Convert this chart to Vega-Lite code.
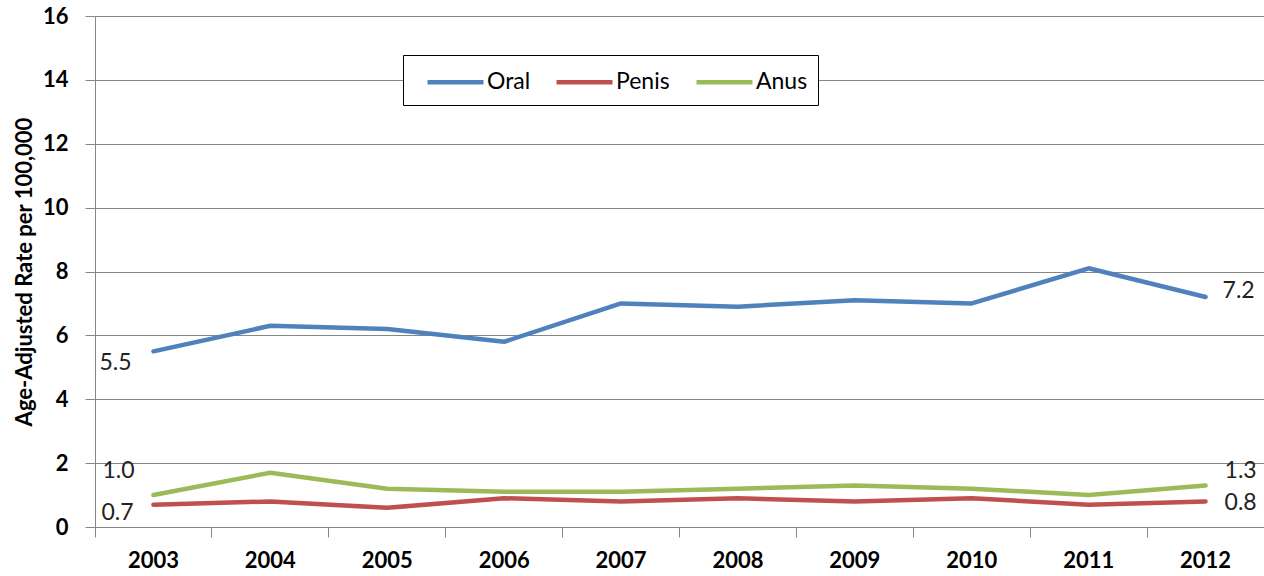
{
  "$schema": "https://vega.github.io/schema/vega-lite/v6.json",
  "autosize": {"type": "none"},
  "width": 1169,
  "height": 511,
  "padding": {"left": 95, "top": 16, "right": 0, "bottom": 49},
  "background": "white",
  "config": {
    "view": {"stroke": null},
    "font": "Lato"
  },
  "data": {
    "values": [
      {"year": "2003", "series": "Oral", "value": 5.5},
      {"year": "2004", "series": "Oral", "value": 6.3},
      {"year": "2005", "series": "Oral", "value": 6.2},
      {"year": "2006", "series": "Oral", "value": 5.8},
      {"year": "2007", "series": "Oral", "value": 7.0},
      {"year": "2008", "series": "Oral", "value": 6.9},
      {"year": "2009", "series": "Oral", "value": 7.1},
      {"year": "2010", "series": "Oral", "value": 7.0},
      {"year": "2011", "series": "Oral", "value": 8.1},
      {"year": "2012", "series": "Oral", "value": 7.2},
      {"year": "2003", "series": "Penis", "value": 0.7},
      {"year": "2004", "series": "Penis", "value": 0.8},
      {"year": "2005", "series": "Penis", "value": 0.6},
      {"year": "2006", "series": "Penis", "value": 0.9},
      {"year": "2007", "series": "Penis", "value": 0.8},
      {"year": "2008", "series": "Penis", "value": 0.9},
      {"year": "2009", "series": "Penis", "value": 0.8},
      {"year": "2010", "series": "Penis", "value": 0.9},
      {"year": "2011", "series": "Penis", "value": 0.7},
      {"year": "2012", "series": "Penis", "value": 0.8},
      {"year": "2003", "series": "Anus", "value": 1.0},
      {"year": "2004", "series": "Anus", "value": 1.7},
      {"year": "2005", "series": "Anus", "value": 1.2},
      {"year": "2006", "series": "Anus", "value": 1.1},
      {"year": "2007", "series": "Anus", "value": 1.1},
      {"year": "2008", "series": "Anus", "value": 1.2},
      {"year": "2009", "series": "Anus", "value": 1.3},
      {"year": "2010", "series": "Anus", "value": 1.2},
      {"year": "2011", "series": "Anus", "value": 1.0},
      {"year": "2012", "series": "Anus", "value": 1.3}
    ]
  },
  "encoding": {
    "x": {
      "field": "year",
      "type": "ordinal",
      "scale": {"type": "band", "paddingInner": 0, "paddingOuter": 0},
      "axis": {
        "title": null,
        "labelAngle": 0,
        "bandPosition": 0,
        "labelFont": "Lato",
        "labelFontSize": 22,
        "labelFontWeight": "bold",
        "labelColor": "black",
        "labelPadding": 13,
        "tickSize": 10,
        "tickColor": "#868686",
        "domainColor": "#868686",
        "grid": false
      }
    },
    "y": {
      "field": "value",
      "type": "quantitative",
      "scale": {"domain": [0, 16], "nice": false},
      "axis": {
        "title": "Age-Adjusted Rate per 100,000",
        "titleFont": "Lato",
        "titleFontSize": 22,
        "titleFontWeight": "bold",
        "titleColor": "black",
        "titlePadding": 6,
        "values": [0, 2, 4, 6, 8, 10, 12, 14, 16],
        "labelFont": "Lato",
        "labelFontSize": 22,
        "labelFontWeight": "bold",
        "labelColor": "black",
        "labelPadding": 17,
        "tickSize": 10,
        "tickColor": "#868686",
        "domainColor": "#868686",
        "grid": true,
        "gridColor": "#868686",
        "gridWidth": 1
      }
    }
  },
  "layer": [
    {
      "mark": {"type": "line", "strokeWidth": 4.5, "strokeCap": "round", "strokeJoin": "round"},
      "encoding": {
        "color": {
          "field": "series",
          "type": "nominal",
          "scale": {"domain": ["Oral", "Penis", "Anus"], "range": ["#4F81BD", "#C0504D", "#9BBB59"]},
          "legend": {
            "title": null,
            "orient": "none",
            "legendX": 308,
            "legendY": 39,
            "direction": "horizontal",
            "strokeColor": "black",
            "fillColor": "white",
            "padding": 10.5,
            "symbolType": "M-2,0H2",
            "symbolSize": 784,
            "symbolStrokeWidth": 4.5,
            "symbolOffset": 25.5,
            "labelFont": "Lato",
            "labelFontSize": 23,
            "labelColor": "black",
            "labelOffset": 15,
            "columnPadding": 12
          }
        }
      }
    },
    {
      "transform": [{"filter": "datum.year == '2003' && datum.series == 'Oral'"}],
      "mark": {"type": "text", "fontSize": 23, "font": "Lato", "color": "#222", "align": "center", "baseline": "middle", "dx": -38, "dy": 12},
      "encoding": {"text": {"field": "value", "type": "quantitative", "format": ".1f"}}
    },
    {
      "transform": [{"filter": "datum.year == '2003' && datum.series == 'Anus'"}],
      "mark": {"type": "text", "fontSize": 23, "font": "Lato", "color": "#222", "align": "center", "baseline": "middle", "dx": -35, "dy": -24},
      "encoding": {"text": {"field": "value", "type": "quantitative", "format": ".1f"}}
    },
    {
      "transform": [{"filter": "datum.year == '2003' && datum.series == 'Penis'"}],
      "mark": {"type": "text", "fontSize": 23, "font": "Lato", "color": "#222", "align": "center", "baseline": "middle", "dx": -36, "dy": 8},
      "encoding": {"text": {"field": "value", "type": "quantitative", "format": ".1f"}}
    },
    {
      "transform": [{"filter": "datum.year == '2012' && datum.series == 'Oral'"}],
      "mark": {"type": "text", "fontSize": 23, "font": "Lato", "color": "#222", "align": "left", "baseline": "middle", "dx": 17, "dy": -6},
      "encoding": {"text": {"field": "value", "type": "quantitative", "format": ".1f"}}
    },
    {
      "transform": [{"filter": "datum.year == '2012' && datum.series == 'Anus'"}],
      "mark": {"type": "text", "fontSize": 23, "font": "Lato", "color": "#222", "align": "left", "baseline": "middle", "dx": 19, "dy": -14},
      "encoding": {"text": {"field": "value", "type": "quantitative", "format": ".1f"}}
    },
    {
      "transform": [{"filter": "datum.year == '2012' && datum.series == 'Penis'"}],
      "mark": {"type": "text", "fontSize": 23, "font": "Lato", "color": "#222", "align": "left", "baseline": "middle", "dx": 19, "dy": 2},
      "encoding": {"text": {"field": "value", "type": "quantitative", "format": ".1f"}}
    }
  ]
}
